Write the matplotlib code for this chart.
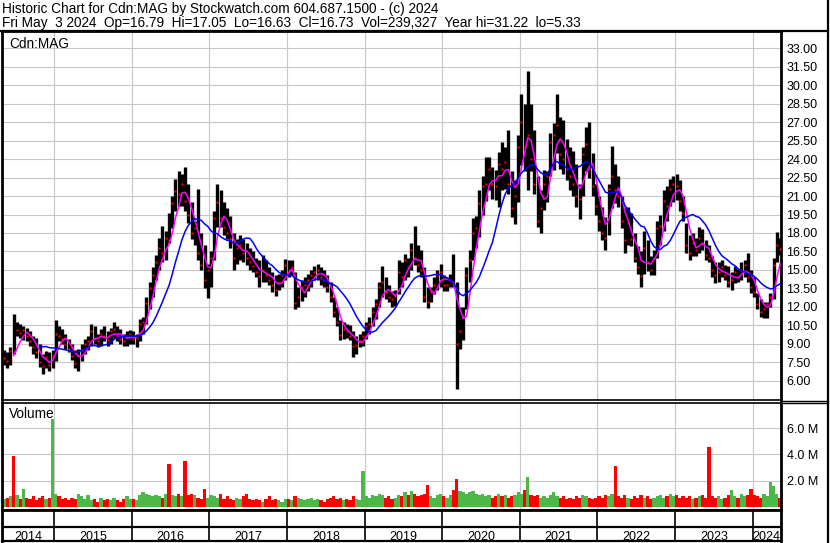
import numpy as np
import pandas as pd
import matplotlib
matplotlib.use("Agg")
import matplotlib.pyplot as plt

plt.rcParams["font.family"] = ["Liberation Sans", "DejaVu Sans"]

# half-month summary of the daily bars, from May 2014 to May 2024
high = [
    8.5, 8.3, 8.7, 11.4, 10.8, 10.6, 10.4, 10.3, 10.0, 9.6, 9.5, 9.0, 8.2, 8.4, 8.3, 8.5,
    10.9, 10.4, 10.2, 9.8, 9.4, 9.0, 8.5, 8.6, 9.0, 9.4, 9.6, 10.6, 10.4, 9.8, 10.2, 10.4, 10.0, 10.3, 10.8, 10.4, 10.2, 9.8, 10.0, 10.1,
    10.0, 9.8, 11.0, 11.2, 12.8, 14.0, 15.2, 16.2, 17.6, 18.6, 18.2, 19.6, 21.0, 22.4, 23.0, 22.8, 23.4, 22.0, 20.5, 19.0, 21.6, 18.0, 17.0, 15.5,
    16.5, 19.8, 22.0, 21.5, 20.5, 20.0, 19.4, 18.0, 17.5, 17.8, 17.5, 17.2, 16.8, 16.5, 16.0, 15.8, 16.2, 15.8, 15.2, 14.8, 14.6, 14.7, 15.0, 15.9,
    15.8, 15.8, 14.8, 13.6, 14.2, 14.4, 14.7, 15.0, 15.3, 15.5, 15.2, 15.0, 14.6, 14.0, 12.8, 12.0, 10.9, 10.8, 10.6, 10.5, 10.0, 9.6, 9.8, 10.0,
    10.8, 11.2, 12.0, 12.6, 14.0, 15.3, 14.4, 13.8, 13.3, 13.4, 15.8, 15.6, 16.3, 16.0, 17.2, 18.6, 17.0, 16.6, 15.2, 13.6, 13.6, 14.4, 15.0, 15.5,
    14.6, 14.4, 14.7, 16.3, 14.0, 12.0, 12.0, 15.2, 16.6, 19.2, 19.4, 21.5, 22.6, 24.2, 24.2, 23.4, 23.1, 24.6, 25.4, 25.0, 26.4, 23.0, 22.3, 26.0,
    29.3, 28.5, 31.2, 28.5, 26.4, 22.6, 21.5, 23.1, 23.0, 26.1, 26.9, 29.3, 27.4, 27.2, 25.6, 25.0, 24.7, 23.6, 22.0, 25.0, 26.6, 27.0, 24.5, 22.0,
    21.0, 20.1, 19.3, 22.0, 25.1, 23.6, 22.6, 21.0, 20.1, 20.1, 19.6, 18.0, 16.9, 16.5, 18.2, 17.4, 16.1, 16.6, 19.0, 19.5, 21.5, 21.8, 22.4, 22.6,
    22.8, 22.3, 21.0, 18.8, 17.8, 18.0, 17.6, 18.5, 18.3, 17.4, 17.0, 16.1, 15.6, 15.6, 15.8, 15.4, 15.3, 14.8, 15.3, 15.1, 15.6, 15.8, 16.4, 15.0,
    14.4, 13.1, 12.6, 12.4, 12.4, 13.1, 16.0, 18.1, 17.6,
]
low = [
    7.3, 7.0, 7.3, 8.2, 9.6, 9.5, 9.3, 9.2, 8.8, 8.2, 7.8, 7.1, 6.5, 7.0, 6.8, 7.0,
    7.6, 9.2, 9.0, 8.6, 8.3, 7.7, 7.0, 6.8, 7.6, 8.2, 8.5, 8.8, 9.0, 8.7, 8.8, 9.2, 8.8, 9.0, 9.5, 9.2, 9.0, 8.8, 8.8, 9.0,
    9.0, 8.7, 9.2, 9.8, 10.6, 11.8, 12.8, 14.2, 15.0, 15.6, 15.8, 17.2, 18.4, 19.8, 20.2, 20.2, 19.8, 18.8, 17.5, 17.0, 15.8, 15.0, 13.5, 12.7,
    13.6, 15.8, 18.5, 18.5, 17.8, 17.5, 16.8, 15.0, 15.5, 15.8, 15.6, 15.4, 15.0, 14.8, 14.4, 13.6, 14.0, 14.0, 13.8, 13.2, 12.9, 13.4, 13.6, 14.2,
    14.4, 14.6, 11.8, 12.0, 12.5, 12.8, 13.3, 13.6, 14.2, 14.2, 13.8, 13.6, 13.2, 12.4, 11.2, 10.4, 9.3, 9.4, 9.5, 9.3, 7.9, 8.2, 8.7, 8.8,
    9.4, 9.8, 10.4, 11.0, 12.0, 12.8, 12.6, 12.4, 12.0, 12.1, 13.0, 13.6, 14.2, 14.4, 15.0, 15.4, 14.8, 14.4, 12.4, 11.9, 12.4, 13.0, 13.4, 13.6,
    13.3, 13.3, 13.6, 13.6, 5.3, 8.6, 9.3, 11.8, 14.0, 15.8, 16.8, 17.7, 19.5, 20.6, 21.5, 20.8, 20.7, 20.1, 21.5, 21.6, 21.2, 19.3, 18.7, 20.5,
    23.5, 23.0, 21.5, 23.0, 21.2, 18.5, 18.0, 19.9, 20.5, 22.6, 23.1, 24.5, 23.2, 22.8, 22.3, 21.5, 21.0, 20.1, 19.1, 21.0, 23.0, 22.5, 21.0, 19.5,
    18.2, 17.4, 16.6, 17.8, 20.0, 20.4, 20.1, 18.4, 16.4, 17.0, 16.9, 15.6, 14.7, 13.6, 14.7, 14.9, 14.6, 14.6, 16.0, 17.0, 18.2, 19.0, 20.2, 20.5,
    20.7, 19.8, 19.0, 16.4, 15.8, 16.1, 16.1, 16.4, 16.6, 15.8, 15.6, 14.4, 13.9, 14.0, 14.4, 14.2, 13.6, 13.4, 13.9, 14.0, 14.2, 14.4, 14.0, 13.1,
    12.8, 11.8, 11.2, 11.1, 11.1, 12.0, 12.6, 15.6, 16.2,
]
close = [
    7.8, 7.6, 8.4, 8.3, 10.1, 9.9, 10.1, 9.6, 9.2, 8.7, 8.3, 7.5, 7.2, 7.9, 7.3, 8.0,
    9.8, 9.6, 9.4, 9.0, 8.6, 8.0, 7.4, 8.0, 8.5, 9.0, 9.2, 10.0, 9.4, 9.2, 9.8, 9.6, 9.3, 10.0, 10.2, 9.6, 9.4, 9.2, 9.6, 9.8,
    9.4, 9.5, 10.6, 10.8, 12.3, 13.5, 14.6, 15.6, 16.8, 16.4, 17.6, 17.4, 20.4, 21.4, 21.2, 22.0, 20.6, 19.5, 18.0, 18.4, 16.4, 15.4, 14.2, 15.0,
    16.0, 19.2, 20.5, 19.2, 18.5, 18.0, 17.5, 16.0, 16.8, 17.0, 16.4, 16.0, 15.6, 15.3, 14.8, 14.5, 15.0, 14.6, 14.2, 13.8, 13.4, 14.0, 14.6, 15.4,
    15.0, 15.2, 12.3, 12.8, 13.6, 13.8, 14.2, 14.6, 14.8, 15.0, 14.4, 14.2, 13.6, 12.8, 11.6, 10.8, 9.7, 10.2, 10.0, 9.6, 8.8, 8.9, 9.2, 9.6,
    10.4, 10.6, 11.6, 12.2, 13.6, 14.0, 13.2, 12.8, 12.6, 12.9, 14.8, 14.4, 15.8, 15.2, 16.6, 16.0, 15.4, 15.0, 12.8, 12.4, 13.2, 13.8, 14.6, 14.8,
    13.8, 13.8, 14.2, 14.0, 9.0, 10.0, 11.2, 14.6, 15.8, 18.0, 18.4, 20.4, 21.8, 22.0, 23.2, 22.0, 21.8, 23.6, 23.2, 23.8, 22.0, 20.0, 21.0, 25.0,
    27.0, 25.0, 26.0, 24.0, 22.0, 19.0, 20.0, 22.0, 22.6, 25.4, 26.0, 26.8, 24.4, 24.0, 23.2, 22.6, 22.0, 21.0, 20.8, 24.4, 25.2, 23.2, 21.8, 20.2,
    19.0, 18.0, 17.6, 21.6, 22.6, 21.5, 21.0, 19.0, 17.4, 18.8, 17.5, 16.0, 15.2, 14.5, 16.8, 15.6, 15.0, 16.0, 18.4, 18.6, 20.6, 20.2, 21.6, 22.0,
    21.8, 20.6, 19.6, 17.0, 16.4, 17.2, 16.6, 17.6, 17.2, 16.2, 16.0, 15.0, 14.6, 14.8, 15.2, 14.6, 14.0, 14.2, 14.8, 14.4, 15.0, 15.4, 14.4, 13.6,
    13.2, 12.2, 11.6, 11.8, 12.2, 12.8, 15.4, 17.0, 16.7,
]
# millions of shares, tallest day in each half month
volume = [
    0.6, 0.7, 0.8, 3.9, 0.9, 0.6, 1.4, 0.7, 0.6, 0.8, 0.5, 0.7, 0.8, 0.6, 0.7, 6.7,
    1.0, 0.8, 0.6, 0.7, 0.5, 0.7, 0.6, 1.0, 0.8, 0.6, 0.9, 0.5, 0.6, 0.4, 0.7, 0.5, 0.6, 0.5, 0.7, 0.5, 0.4, 0.6, 0.8, 0.6,
    0.6, 0.5, 0.9, 1.1, 1.0, 0.9, 0.8, 0.9, 0.8, 0.7, 1.0, 3.3, 0.9, 0.8, 1.0, 0.8, 3.5, 0.9, 1.0, 0.9, 0.7, 0.6, 1.4, 0.7,
    0.9, 0.8, 0.7, 1.0, 0.6, 0.8, 0.6, 0.5, 0.7, 0.6, 0.8, 1.0, 0.6, 0.5, 0.6, 0.5, 0.4, 0.6, 0.8, 0.5, 0.6, 0.5, 0.4, 0.6,
    0.6, 0.5, 0.8, 0.7, 0.6, 0.5, 0.6, 0.7, 0.5, 0.6, 0.5, 0.4, 0.6, 0.7, 0.8, 0.6, 0.7, 0.5, 0.6, 0.5, 0.8, 0.6, 0.5, 2.7,
    0.8, 0.7, 0.9, 0.8, 1.0, 0.9, 0.7, 0.8, 0.6, 0.7, 0.9, 0.8, 1.1, 0.9, 1.2, 1.0, 0.8, 0.9, 1.0, 1.7, 0.8, 0.7, 0.9, 1.0,
    0.8, 0.7, 0.9, 1.3, 2.1, 1.2, 1.1, 1.0, 1.1, 1.2, 1.0, 0.9, 1.0, 0.8, 0.9, 0.7, 0.8, 1.0, 0.8, 0.9, 0.7, 0.8, 0.9, 1.1,
    1.0, 1.3, 2.3, 0.9, 0.8, 0.9, 0.7, 0.8, 0.7, 0.9, 1.1, 0.8, 0.7, 0.8, 0.6, 0.7, 0.6, 0.8, 0.7, 0.9, 0.8, 0.7, 0.6, 0.7,
    0.8, 0.7, 0.9, 0.8, 1.0, 3.1, 0.8, 0.7, 0.9, 0.7, 0.6, 0.8, 0.7, 0.9, 0.7, 0.8, 0.6, 0.7, 0.8, 0.9, 0.7, 0.8, 1.0, 0.8,
    0.9, 0.7, 0.8, 0.7, 0.8, 0.6, 0.7, 0.8, 0.9, 0.7, 4.6, 0.8, 0.7, 0.8, 0.6, 0.7, 0.9, 1.3, 0.8, 0.7, 1.0, 0.8, 0.9, 1.35,
    0.9, 0.8, 0.7, 1.0, 0.8, 1.9, 1.6, 1.0, 0.7,
]

years = list(range(2014, 2025))
price_ticks = np.arange(6.0, 33.01, 1.5)
volume_ticks = [2.0, 4.0, 6.0]

header1 = "Historic Chart for Cdn:MAG by Stockwatch.com 604.687.1500 - (c) 2024"
header2 = ("Fri May  3 2024  Op=16.79  Hi=17.05  Lo=16.63  Cl=16.73  "
           "Vol=239,327  Year hi=31.22  lo=5.33")

# decimal-year position of each half-month slot (first slot starts 1 May 2014)
t = 2014 + 4 / 12 + (np.arange(len(close)) + 0.5) / 24
closes = pd.Series(close)
ma_fast = closes.rolling(4).mean()
ma_slow = closes.rolling(12).mean()
up = closes.diff().fillna(0) >= 0
vol_colors = np.where(up, "#4cb848", "#ff0000")

W, H = 830, 543
xlim = (2014.328, 2024.366)
grid_c = "#c8c8c8"
label_size = 9.8


def box(x0, y0, x1, y1):
    return [x0 / W, 1 - y1 / H, (x1 - x0) / W, (y1 - y0) / H]


fig = plt.figure(figsize=(W / 100, H / 100), dpi=100)
fig.patch.set_facecolor("white")

# price panel
ax = fig.add_axes(box(2, 31, 781, 400))
ax.vlines(t, low, high, color="black", lw=2.4, zorder=2)
ax.plot(t, close, ls="none", marker="s", ms=1.6, mfc="red", mec="none", zorder=3)
ax.plot(t, ma_fast, color="#ff00ff", lw=1.1, zorder=4)
ax.plot(t, ma_slow, color="#0000ff", lw=1.1, zorder=5)
ax.set_xlim(*xlim)
ax.set_ylim(4.42, 34.42)
ax.set_xticks(years[1:])
ax.set_yticks(price_ticks)
ax.set_yticklabels([f"{v:.2f}" for v in price_ticks])
ax.yaxis.tick_right()
ax.tick_params(axis="x", length=0, labelbottom=False)
ax.tick_params(axis="y", length=0, pad=4, labelsize=9)
ax.grid(True, color=grid_c, lw=0.8)
ax.set_axisbelow(True)
ax.text(0.009, 0.955, "Cdn:MAG", transform=ax.transAxes, fontsize=label_size, va="baseline")
for side, lw in (("left", 2), ("right", 2), ("top", 2), ("bottom", 1.2)):
    ax.spines[side].set_linewidth(lw)

# volume panel
axv = fig.add_axes(box(2, 403, 781, 510))
axv.bar(t, volume, width=1 / 24, color=vol_colors, linewidth=0, zorder=2)
axv.set_xlim(*xlim)
axv.set_ylim(-0.24, 7.93)
axv.set_xticks(years[1:])
axv.set_yticks(volume_ticks)
axv.set_yticklabels([f"{v:.1f} M" for v in volume_ticks])
axv.yaxis.tick_right()
axv.tick_params(axis="x", length=0, labelbottom=False)
axv.tick_params(axis="y", length=0, pad=4, labelsize=9)
axv.grid(True, color=grid_c, lw=0.8)
axv.set_axisbelow(True)
axv.text(0.009, 0.86, "Volume", transform=axv.transAxes, fontsize=label_size, va="baseline")
for side, lw in (("left", 2), ("right", 2), ("top", 1.2), ("bottom", 2)):
    axv.spines[side].set_linewidth(lw)

# year strip
axy = fig.add_axes(box(2, 510, 781, 541))
axy.set_xlim(*xlim)
axy.set_ylim(0, 31)
axy.set_xticks([])
axy.set_yticks([])
axy.vlines(years[1:], 0, 31, color="black", lw=1.2)
axy.axhline(14, color="black", lw=1.6)
edges = [xlim[0]] + years[1:] + [xlim[1]]
for yr, a, b in zip(years, edges[:-1], edges[1:]):
    axy.text((a + b) / 2, 1.2, str(yr), ha="center", va="baseline", fontsize=9)
for side, lw in (("left", 2), ("right", 2), ("top", 2), ("bottom", 1.6)):
    axy.spines[side].set_linewidth(lw)

# header and outer frame
fig.text(2 / W, 1 - 13.3 / H, header1, fontsize=label_size, va="baseline")
fig.text(2 / W, 1 - 26.7 / H, header2, fontsize=label_size, va="baseline")
frame = fig.add_axes([0, 0, 1, 1], facecolor="none")
frame.set_xlim(0, W)
frame.set_ylim(H, 0)
frame.axis("off")
frame.plot([0, 828], [30.5, 30.5], color="black", lw=1.6)
frame.plot([781, 828], [400.5, 400.5], color="black", lw=1.0)
frame.plot([781, 828], [403, 403], color="black", lw=1.0)
frame.plot([828, 828], [0, 543], color="black", lw=1.6)

fig.savefig("out.png", dpi=100)
